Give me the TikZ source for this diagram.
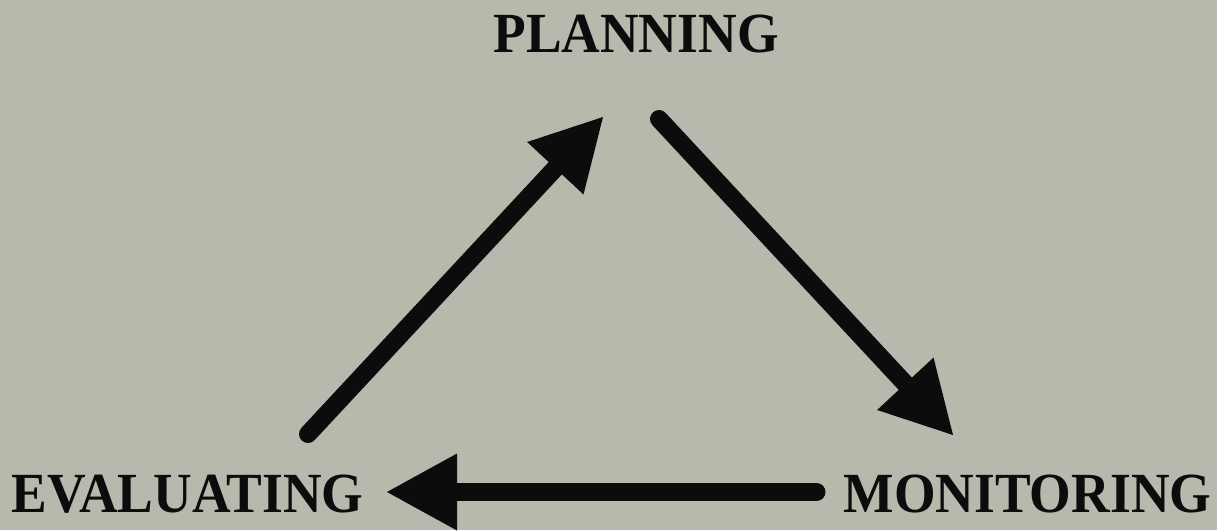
\documentclass[tikz,border=0pt]{standalone}
\usepackage{fontspec}
\setmainfont{Liberation Serif}
\usetikzlibrary{arrows.meta}
\definecolor{bg}{HTML}{B7B9AD}
\definecolor{ink}{HTML}{0C0C0C}
\begin{document}
\begin{tikzpicture}[x=1pt,y=-1pt,
  label/.style={anchor=base,inner sep=0pt,text=ink,font=\fontsize{53.5}{53.5}\selectfont\bfseries},
  cycarrow/.style={draw=ink,line width=18pt,line cap=round,
    -{Triangle[length=70pt,width=77pt,line width=0pt]}}]
  \fill[bg] (0,0) rectangle (1217,530);
  \useasboundingbox (0,0) rectangle (1217,530);
  \node[label] (plan) at (636,52) {\scalebox{1}[1.06]{PLANNING}};
  \node[label] (eval) at (187.5,512) {\scalebox{1}[1.06]{EVALUATING}};
  \node[label] (mon) at (1027.5,512) {\scalebox{1}[1.06]{MONITORING}};
  \coordinate (evalout) at (308,434);
  \coordinate (planin) at (603,117);
  \coordinate (planout) at (659,119);
  \coordinate (monin) at (953,435);
  \coordinate (monout) at (816.5,492);
  \coordinate (evalin) at (387,492);
  \draw[cycarrow] (evalout) -- (planin);
  \draw[cycarrow] (planout) -- (monin);
  \draw[cycarrow] (monout) -- (evalin);
\end{tikzpicture}
\end{document}
